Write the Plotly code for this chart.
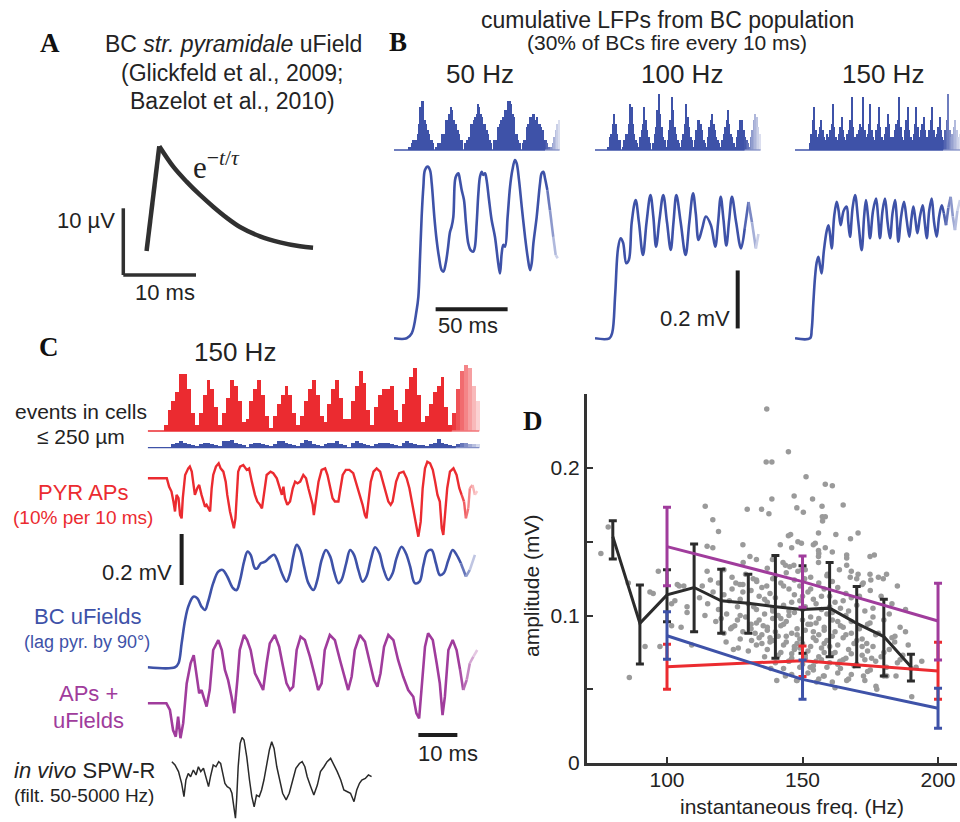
import plotly.graph_objects as go

W, H = 960, 822
SANS = "Liberation Sans, Arial, Helvetica, sans-serif"
SERIF = "Liberation Serif, Times New Roman, serif"
INK = "#232323"
TRACE_INK = "#303030"
RED = "#eb2b30"
BLUE = "#3e52a8"
PURPLE = "#a03c9c"
DOT = "#9a9a9a"

# ---------------- Panel A: unitary field of one basket cell ----------------
UFIELD_T_MS = [3.2, 4.95, 6.9, 8.7, 10.55, 12.4, 14.2, 16.05, 18.8, 21.55, 24.3, 26.1]
UFIELD_UV = [3.6, 19.3, 16.2, 14.0, 12.0, 10.2, 8.6, 7.2, 5.8, 4.9, 4.3, 4.1]
A_TIME_BAR_MS = 10
A_VOLT_BAR_UV = 10

# ---------------- Panel B: BC spike histograms (1 ms bins) and LFPs ----------------
B_TITLES = ["50 Hz", "100 Hz", "150 Hz"]
BIN_MS = 1.0
SPIKES_50HZ = [0, 0, 0, 0, 0, 0, 0, 0, 0, 0,
               1, 1, 2, 3, 3, 3, 5, 8, 13, 15, 15, 9, 8, 6, 5, 3, 3, 2, 0,
               1, 2, 2, 2, 5, 5, 5, 9, 9, 11, 13, 12, 9, 8, 8, 6, 5, 3, 3, 0,
               2, 3, 3, 4, 8, 8, 9, 10, 11, 14, 13, 11, 10, 8, 8, 6, 5, 3, 2, 0,
               3, 3, 3, 7, 8, 9, 10, 10, 12, 12, 15, 15, 14, 11, 10, 5, 5, 3, 2, 0,
               2, 3, 3, 7, 8, 10, 10, 11, 11, 9, 10, 8, 8, 7, 6, 3, 3, 2, 1, 0,
               1, 2, 4, 6, 8, 9]
SPIKES_100HZ = [0, 0, 0, 0, 0, 0, 0, 0, 0,
                1, 4, 5, 8, 11, 8, 5, 3, 3, 0,
                1, 3, 5, 5, 8, 14, 13, 8, 5, 3, 2,
                1, 4, 6, 8, 13, 9, 6, 4, 2, 0,
                2, 5, 7, 12, 17, 11, 7, 4, 3, 1,
                3, 6, 9, 16, 12, 7, 5, 3, 2, 1,
                3, 5, 8, 14, 10, 7, 4, 3, 1,
                3, 6, 9, 9, 8, 6, 3, 2, 1,
                4, 7, 9, 11, 8, 6, 4, 3, 2, 1,
                3, 5, 7, 9, 12, 8, 5, 4, 2, 1,
                4, 6, 9, 8, 9, 6, 4, 3, 2, 1,
                4, 6, 9, 11, 10, 7, 5]
SPIKES_150HZ = [0, 0, 0, 0, 0, 0, 0, 0, 0, 0,
                2, 5, 9, 13, 6, 4, 5, 7, 9, 6,
                4, 3, 5, 4, 6, 8, 14, 7, 4, 3,
                5, 7, 10, 6, 4, 3, 5, 6, 9, 16,
                7, 4, 3, 5, 6, 8, 7, 16, 6, 4,
                5, 8, 14, 6, 4, 3, 6, 8, 13, 7,
                4, 3, 5, 7, 11, 8, 4, 3, 4, 6,
                8, 9, 16, 7, 4, 3, 6, 9, 13, 6,
                4, 3, 5, 8, 13, 7, 4, 6, 8, 10,
                6, 4, 3, 6, 9, 13, 6, 4, 5, 7,
                10, 6, 4, 3, 6, 9, 17, 6, 4, 5,
                7, 9, 6, 4, 5]

LFP_50HZ_T = [0, 8.8, 12.3, 15.7, 16.9, 18.1, 19.2, 20.4, 21.5, 23.4, 25.0, 26.2, 28.0, 29.6, 31.2,
              33.1, 34.3, 35.9, 37.3, 38.9, 40.0, 41.2, 42.4, 43.5, 44.7, 45.8, 47.0, 48.6, 50.0, 51.6,
              53.2, 55.1, 56.2, 57.4, 58.6, 59.7, 60.9, 62.0, 63.2, 64.3, 66.0, 67.8, 70.1, 72.4, 73.6,
              74.8, 75.9, 77.1, 78.9, 80.6, 82.2, 84.0, 85.2, 86.8, 88.7, 91.0, 92.8, 94.5, 95.6, 96.8,
              99.1, 101.4, 102.5, 103.7, 104.9, 106.5, 108.3, 110.6, 112.3, 113.7]
LFP_50HZ_MV = [0, 0, 0.017, 0.097, 0.143, 0.281, 0.419, 0.523, 0.58, 0.592, 0.58, 0.534, 0.419, 0.339, 0.281,
               0.235, 0.23, 0.258, 0.304, 0.367, 0.385, 0.419, 0.546, 0.563, 0.569, 0.546, 0.511, 0.477, 0.396, 0.327,
               0.304, 0.299, 0.316, 0.396, 0.5, 0.557, 0.574, 0.563, 0.569, 0.546, 0.477, 0.408, 0.35, 0.258, 0.224,
               0.293, 0.322, 0.316, 0.419, 0.523, 0.58, 0.615, 0.603, 0.546, 0.454, 0.35, 0.281, 0.235, 0.258, 0.327,
               0.419, 0.534, 0.569, 0.574, 0.551, 0.511, 0.442, 0.35, 0.287, 0.276]
LFP_100HZ_T = [0, 10, 12, 14, 16, 17.8, 19.5, 21.7, 23.5, 25.5, 28.2, 30.5, 33.3, 35.8, 38.5,
               40.5, 42.4, 44.8, 47.4, 50, 52.6, 54.5, 56.5, 59.5, 62.9, 65.5, 68.1, 70, 71.9, 74.5,
               77, 80.5, 83.5, 85.5, 87.3, 89.2, 91.2, 93.2, 95.1, 98, 101.4, 104, 106.6, 109, 111.7, 113.5]
LFP_100HZ_MV = [0, 0, 0.02, 0.15, 0.31, 0.345, 0.33, 0.259, 0.27, 0.40, 0.477, 0.40, 0.287, 0.40, 0.494,
                0.42, 0.316, 0.41, 0.494, 0.40, 0.305, 0.40, 0.494, 0.40, 0.287, 0.40, 0.50, 0.43, 0.339, 0.38,
                0.42, 0.39, 0.316, 0.40, 0.488, 0.41, 0.32, 0.41, 0.488, 0.40, 0.31, 0.38, 0.47, 0.40, 0.31, 0.36]
LFP_150HZ_T = [0, 10.4, 11.6, 12.7, 13.9, 15.0, 16.2, 17.4, 18.5, 20.0, 22.0, 23.2, 24.3, 25.5, 27.2,
               28.95, 30.3, 31.7, 33.8, 35.9, 37.0, 38.2, 40.0, 41.7, 44.0, 46.3, 48.0, 49.3, 50.7, 52.1,
               54.2, 56.3, 57.7, 59.0, 60.8, 62.5, 64.3, 66.0, 67.7, 69.5, 70.6, 71.8, 73.7, 75.7, 77.5,
               79.4, 80.8, 82.2, 83.6, 85.0, 86.8, 88.7, 90.1, 91.5, 93.2, 94.9, 96.6, 98.4, 100.1, 101.9,
               103.4, 104.9, 106.5, 108.1, 109.6, 111.1, 112.8, 114.6]
LFP_150HZ_MV = [0, 0, 0.03, 0.12, 0.21, 0.26, 0.281, 0.25, 0.224, 0.30, 0.37, 0.39, 0.36, 0.31, 0.42,
                0.471, 0.44, 0.39, 0.44, 0.454, 0.40, 0.35, 0.45, 0.494, 0.40, 0.304, 0.42, 0.477, 0.42, 0.345,
                0.44, 0.482, 0.42, 0.345, 0.44, 0.482, 0.40, 0.345, 0.43, 0.477, 0.42, 0.333, 0.42, 0.471, 0.41,
                0.35, 0.41, 0.454, 0.41, 0.362, 0.42, 0.459, 0.40, 0.345, 0.44, 0.482, 0.40, 0.35, 0.42, 0.459,
                0.43, 0.39, 0.45, 0.488, 0.42, 0.373, 0.44, 0.477]
B_TIME_BAR_MS = 50
B_VOLT_BAR_MV = 0.2

# ---------------- Panel C: 150 Hz ripple, cells within 250 µm ----------------
PYR_EVENTS = [0, 0, 0, 0, 2, 7, 10, 13, 19, 19, 14, 6, 2,
              6, 12, 17, 14, 8, 2, 6, 11, 17, 15, 10, 3,
              4, 10, 14, 17, 12, 5, 1, 5, 9, 12, 15, 12, 6, 2,
              5, 10, 14, 17, 12, 5, 3, 9, 14, 17, 11, 4,
              4, 10, 15, 20, 16, 7, 2, 8, 12, 14, 14, 15, 7,
              3, 9, 14, 18, 21, 12, 3, 5, 9, 13, 15, 18, 8, 2,
              6, 14, 20, 22, 21, 15, 10]
BC_EVENTS = [0, 0, 0, 0, 0, 0,
             3, 4, 5, 4, 3, 2, 1, 3, 4, 4, 3, 2, 1,
             5, 5, 6, 4, 3, 2, 0, 3, 4, 4, 3, 2, 1,
             3, 5, 5, 4, 3, 2, 1, 4, 6, 5, 3, 2, 1,
             3, 4, 4, 5, 3, 2, 0, 4, 5, 4, 3, 2, 1,
             3, 4, 4, 4, 3, 2, 1, 4, 5, 4, 3, 2, 2, 1,
             3, 4, 7, 4, 3, 2, 1, 3, 4, 4, 3, 3, 3]

PYR_AP_T = [0, 4.9, 5.5, 6.1, 6.6, 7.0, 7.4, 7.9, 8.3, 8.7,
            9.0, 9.6, 10.4, 10.8, 11.3, 11.7, 12.1, 12.7, 13.2, 13.8,
            14.3, 14.7, 15.1, 15.6, 16.0, 16.4, 16.8, 17.5, 18.2, 18.7,
            19.4, 20.0, 20.4, 21.1, 21.8, 22.1, 22.5, 22.8, 23.2, 23.7,
            24.5, 25.4, 26.0, 26.7, 27.5, 28.1, 28.8, 29.3, 29.8, 30.5,
            31.5, 32.2, 33.1, 33.8, 34.4, 34.8, 35.2, 35.8, 36.5, 37.2,
            37.8, 38.4, 39.1, 39.9, 40.6, 41.2, 41.8, 42.3, 42.6, 43.2,
            43.8, 44.6, 45.5, 46.1, 46.8, 47.4, 48.0, 48.9, 49.3, 50.0,
            50.8, 51.7, 52.7, 53.6, 54.4, 55.1, 55.7, 56.1, 56.7, 57.2,
            57.9, 58.7, 59.6, 60.3, 61.1, 61.7, 62.3, 62.8, 63.7, 64.5,
            65.6, 66.4, 67.1, 67.7, 68.5, 69.4, 70.0, 70.5, 71.1, 71.7,
            72.4, 73.1, 73.7, 74.3, 74.9, 75.4, 75.8, 76.2, 76.8, 77.5,
            78.4, 79.2, 79.9, 80.5, 81.1, 81.6, 82.2, 82.6, 83.3, 83.9, 84.5]
PYR_AP_MV = [0, 0, -0.033, -0.052, -0.091, -0.13, -0.065, -0.078, -0.144, -0.157,
             -0.078, 0.013, 0.039, 0.046, 0.026, -0.013, -0.065, -0.039, -0.026, -0.065,
             -0.091, -0.111, -0.104, -0.118, -0.13, -0.039, 0.013, 0.046, 0.059, 0.039,
             0.026, -0.013, -0.065, -0.13, -0.17, -0.196, -0.157, -0.065, 0.026, 0.046,
             0.052, 0.033, 0.039, -0.013, -0.065, -0.091, -0.104, -0.118, -0.065, 0.013,
             0.026, 0.02, 0.0, -0.039, -0.065, -0.033, -0.078, -0.104, -0.091, -0.039,
             -0.013, -0.02, -0.013, 0.013, 0.0, -0.039, -0.078, -0.104, -0.144, -0.078,
             -0.013, 0.033, 0.039, 0.013, -0.039, -0.078, -0.091, -0.091, -0.052, 0.013,
             0.033, 0.033, 0.02, -0.026, -0.065, -0.104, -0.144, -0.157, -0.078, -0.013,
             0.026, 0.039, 0.026, -0.013, -0.065, -0.091, -0.104, -0.091, -0.013, 0.02,
             0.026, 0.0, -0.039, -0.091, -0.144, -0.229, -0.17, -0.039, 0.039, 0.065,
             0.059, 0.033, -0.013, -0.065, -0.091, -0.196, -0.222, -0.144, -0.039, 0.026,
             0.039, 0.013, -0.039, -0.065, -0.091, -0.157, -0.118, -0.039, -0.026, -0.065, -0.05]

BC_UFIELD_T = [0, 7.0, 7.9, 8.7, 9.6, 10.4, 11.7, 12.7, 13.8, 14.7,
               15.5, 16.8, 18.1, 19.2, 20.4, 21.9, 22.8, 23.7, 24.7, 25.6,
               26.4, 27.5, 28.1, 29.0, 30.1, 31.4, 32.4, 33.2, 34.4, 35.6,
               36.5, 37.3, 38.2, 39.1, 40.1, 41.2, 42.5, 43.5, 44.6, 45.7,
               46.8, 47.8, 48.9, 49.7, 50.9, 51.9, 52.9, 54.0, 55.1, 56.1,
               57.2, 58.3, 59.4, 60.4, 61.7, 62.8, 63.8, 65.1, 66.2, 67.3,
               68.5, 69.7, 70.7, 71.7, 72.8, 73.9, 74.9, 75.9, 77.1, 78.2,
               79.2, 80.3, 81.6, 82.6, 83.9]
BC_UFIELD_MV = [0, 0, 0.016, 0.094, 0.186, 0.238, 0.277, 0.271, 0.238, 0.225,
                0.258, 0.33, 0.375, 0.382, 0.356, 0.31, 0.303, 0.343, 0.414, 0.454,
                0.441, 0.388, 0.388, 0.408, 0.414, 0.432, 0.441, 0.421, 0.369, 0.336,
                0.369, 0.434, 0.48, 0.46, 0.395, 0.33, 0.303, 0.343, 0.421, 0.46,
                0.434, 0.375, 0.33, 0.343, 0.408, 0.46, 0.441, 0.382, 0.336, 0.356,
                0.421, 0.471, 0.447, 0.388, 0.343, 0.369, 0.428, 0.473, 0.447, 0.395,
                0.33, 0.336, 0.401, 0.454, 0.46, 0.408, 0.362, 0.369, 0.421, 0.46,
                0.441, 0.408, 0.356, 0.382, 0.441]

SUM_T = [0, 4.8, 5.7, 6.5, 7.2, 7.8, 8.4, 9.1, 10.0, 11.0,
         11.8, 12.5, 13.2, 13.8, 14.4, 15.1, 15.9, 16.8, 18.1, 19.0,
         19.8, 20.6, 21.5, 22.2, 23.0, 23.6, 24.7, 25.5, 26.4, 27.5,
         28.8, 29.6, 30.5, 31.3, 32.6, 33.7, 34.7, 35.6, 36.5, 37.3,
         38.2, 39.2, 40.3, 41.6, 42.9, 43.7, 44.6, 45.4, 46.7, 48.0,
         49.3, 50.6, 51.4, 52.3, 53.1, 54.4, 55.7, 57.0, 58.0, 58.9,
         59.7, 60.6, 61.7, 63.0, 64.2, 65.5, 66.8, 68.1, 68.9, 69.6,
         70.2, 71.1, 71.9, 73.1, 74.1, 74.9, 75.6, 76.2, 77.1, 78.2,
         79.2, 80.1, 80.9, 81.8, 82.6, 83.5, 84.5]
SUM_MV = [0, 0, -0.026, -0.105, -0.131, -0.052, -0.137, -0.078, 0.078, 0.157,
          0.189, 0.105, 0.039, 0.052, 0.026, -0.013, 0.052, 0.209, 0.248, 0.209,
          0.131, 0.092, 0.026, -0.039, 0.092, 0.209, 0.268, 0.248, 0.209, 0.118,
          0.078, 0.052, 0.157, 0.235, 0.268, 0.222, 0.144, 0.078, 0.052, 0.065,
          0.209, 0.261, 0.248, 0.183, 0.105, 0.052, 0.078, 0.209, 0.268, 0.248,
          0.17, 0.092, 0.052, 0.105, 0.209, 0.268, 0.242, 0.157, 0.092, 0.065,
          0.118, 0.222, 0.268, 0.248, 0.17, 0.105, 0.052, 0.026, -0.039, -0.059,
          0.052, 0.222, 0.275, 0.248, 0.157, 0.078, -0.046, 0.026, 0.209, 0.248,
          0.209, 0.131, 0.052, 0.092, 0.157, 0.183, 0.209]

SPWR_T = [6.2, 7.0, 7.9, 8.7, 9.3, 9.8, 10.4, 11.0, 11.7, 12.4,
          13.0, 13.6, 14.3, 14.9, 15.6, 16.1, 16.8, 17.5, 18.2, 18.7,
          19.2, 19.8, 20.4, 21.1, 21.6, 22.1, 22.5, 22.8, 23.2, 23.7,
          24.2, 24.7, 25.4, 26.1, 26.7, 27.3, 27.9, 28.6, 29.2, 29.8,
          30.5, 31.2, 31.8, 32.4, 33.1, 33.8, 34.6, 35.5, 36.3, 37.2,
          38.0, 38.9, 39.6, 40.3, 40.9, 41.8, 42.6, 43.5, 44.3, 45.2,
          46.0, 46.9, 47.8, 48.6, 49.5, 50.3, 51.2, 52.0, 52.9, 53.6,
          54.3, 54.9, 55.8, 56.6, 57.4]
SPWR_MV = [0.059, 0.046, 0.02, -0.026, -0.078, -0.013, 0.013, 0.0, 0.026, 0.007,
           0.039, 0.02, 0.033, 0.0, -0.039, 0.0, 0.046, 0.039, 0.059, 0.052,
           0.013, -0.026, -0.039, -0.046, -0.065, -0.118, -0.163, -0.091, 0.039, 0.131,
           0.154, 0.144, 0.078, -0.013, -0.078, -0.118, -0.072, -0.078, -0.052, -0.013,
           0.052, 0.105, 0.137, 0.111, 0.039, -0.013, -0.065, -0.091, -0.065, -0.013,
           0.033, 0.052, 0.059, 0.039, 0.0, -0.039, -0.072, -0.033, 0.02, 0.039,
           0.059, 0.072, 0.046, 0.02, -0.013, -0.052, -0.059, -0.065, -0.098, -0.052,
           -0.026, -0.013, -0.007, 0.007, 0.0]
C_TIME_BAR_MS = 10
C_VOLT_BAR_MV = 0.2

# ---------------- Panel D: ripple amplitude vs instantaneous frequency ----------------
INVIVO_FREQ = [80, 90, 100, 110, 120, 130, 140, 150, 160, 170, 180, 190]
INVIVO_MEAN = [0.1535, 0.0947, 0.114, 0.119, 0.110, 0.1083, 0.106, 0.104, 0.105, 0.0947, 0.0857, 0.0653]
INVIVO_HI = [0.1643, 0.1207, 0.131, 0.1485, 0.1313, 0.128, 0.1406, 0.1338, 0.136, 0.1196, 0.111, 0.0737]
INVIVO_LO = [0.1383, 0.0671, 0.0958, 0.089, 0.088, 0.088, 0.071, 0.0744, 0.072, 0.0653, 0.059, 0.0556]

MODEL_FREQ = [100, 150, 200]
SUM_AMP_MEAN = [0.1467, 0.123, 0.0963]
SUM_AMP_HI = [0.1734, 0.1404, 0.1218]
SUM_AMP_LO = [0.1202, 0.1056, 0.0699]
PYR_AMP_MEAN = [0.0653, 0.0694, 0.0624]
PYR_AMP_HI = [0.0805, 0.0793, 0.0818]
PYR_AMP_LO = [0.050, 0.0586, 0.0432]
BC_AMP_MEAN = [0.0863, 0.0567, 0.0371]
BC_AMP_HI = [0.1026, 0.0699, 0.0506]
BC_AMP_LO = [0.0703, 0.0432, 0.0235]

D_MAJOR_TICKS = [0, 0.1, 0.2]
D_MINOR_TICKS = [0.05, 0.15, 0.25]
D_FREQ_TICKS = [100, 150, 200]

# individual SPW-R events: (instantaneous frequency Hz, amplitude mV)
SPWR_EVENTS = [
    (121, 0.131), (129, 0.128), (137, 0.132), (144, 0.129), (151, 0.131), (159, 0.127), (168, 0.130), (181, 0.128),
    (116, 0.124), (124, 0.126), (133, 0.124), (140, 0.127), (147, 0.124), (153, 0.126), (161, 0.123), (170, 0.125), (178, 0.126),
    (113, 0.120), (119, 0.122), (128, 0.121), (135, 0.119), (142, 0.122), (149, 0.120), (156, 0.122), (163, 0.119), (172, 0.121), (185, 0.120),
    (117, 0.116), (124, 0.118), (131, 0.117), (138, 0.115), (145, 0.118), (152, 0.116), (158, 0.118), (166, 0.115), (175, 0.117),
    (112, 0.112), (121, 0.114), (127, 0.111), (134, 0.113), (140, 0.112), (147, 0.114), (154, 0.111), (160, 0.113), (168, 0.112), (179, 0.113),
    (115, 0.108), (123, 0.110), (130, 0.108), (137, 0.109), (143, 0.107), (149, 0.110), (155, 0.108), (162, 0.109), (170, 0.107), (183, 0.108),
    (119, 0.104), (126, 0.106), (133, 0.104), (139, 0.105), (145, 0.103), (151, 0.106), (157, 0.104), (164, 0.105), (173, 0.103), (188, 0.104),
    (114, 0.100), (122, 0.101), (129, 0.099), (136, 0.101), (141, 0.100), (147, 0.102), (153, 0.099), (159, 0.101), (166, 0.100), (176, 0.099),
    (118, 0.096), (126, 0.097), (133, 0.095), (139, 0.098), (144, 0.096), (150, 0.097), (155, 0.095), (161, 0.097), (168, 0.096), (180, 0.097),
    (124, 0.092), (131, 0.094), (137, 0.092), (142, 0.093), (148, 0.091), (153, 0.094), (158, 0.092), (164, 0.093), (171, 0.091), (186, 0.092),
    (121, 0.088), (128, 0.089), (135, 0.087), (140, 0.089), (146, 0.088), (151, 0.090), (156, 0.087), (162, 0.089), (168, 0.088), (177, 0.087),
    (127, 0.084), (134, 0.085), (139, 0.083), (144, 0.086), (149, 0.084), (154, 0.085), (159, 0.083), (165, 0.085), (172, 0.084), (183, 0.085),
    (133, 0.080), (138, 0.082), (143, 0.080), (148, 0.081), (153, 0.079), (158, 0.081), (163, 0.080), (169, 0.081), (176, 0.079), (189, 0.080),
    (130, 0.076), (137, 0.077), (142, 0.075), (147, 0.077), (152, 0.076), (157, 0.078), (162, 0.075), (167, 0.077), (174, 0.076), (182, 0.077),
    (136, 0.072), (141, 0.073), (146, 0.071), (151, 0.073), (156, 0.072), (161, 0.074), (166, 0.071), (172, 0.073), (179, 0.072), (187, 0.073),
    (140, 0.068), (145, 0.069), (150, 0.067), (155, 0.069), (160, 0.068), (165, 0.070), (170, 0.067), (177, 0.069), (185, 0.068), (194, 0.069),
    (143, 0.064), (149, 0.065), (154, 0.063), (159, 0.065), (164, 0.064), (169, 0.066), (175, 0.063), (181, 0.065), (190, 0.064),
    (146, 0.060), (152, 0.061), (158, 0.059), (163, 0.061), (168, 0.060), (174, 0.062), (180, 0.059),
    (148, 0.056), (156, 0.057), (161, 0.055), (167, 0.057), (173, 0.056),
    (136, 0.111), (146, 0.109), (157, 0.113), (139, 0.103), (150, 0.104), (161, 0.102), (142, 0.098), (152, 0.094),
    (163, 0.096), (137, 0.090), (148, 0.087), (158, 0.090), (144, 0.082), (155, 0.083), (166, 0.087), (149, 0.078),
    (160, 0.079), (170, 0.083), (141, 0.086), (132, 0.106), (127, 0.100), (153, 0.118), (143, 0.120), (165, 0.110),
    (174, 0.094), (178, 0.088), (146, 0.074), (157, 0.070), (168, 0.074), (184, 0.082),
    (134, 0.097), (145, 0.100), (156, 0.098), (167, 0.103), (131, 0.091), (143, 0.094), (154, 0.089), (165, 0.092),
    (138, 0.085), (150, 0.081), (161, 0.086), (172, 0.079), (135, 0.081), (147, 0.079), (158, 0.075), (151, 0.071),
    (163, 0.067), (173, 0.070), (180, 0.075), (125, 0.093), (120, 0.098), (128, 0.116), (139, 0.125), (150, 0.113),
    (160, 0.106), (171, 0.113), (176, 0.105), (182, 0.101), (188, 0.089), (154, 0.066),
    (136.8, 0.240), (144.8, 0.211), (136.6, 0.204), (138.7, 0.204), (151.3, 0.194), (158.4, 0.189), (161, 0.188),
    (114.1, 0.174), (138.7, 0.179), (146.9, 0.181), (153.7, 0.179), (165, 0.175), (129.6, 0.172), (134.9, 0.172),
    (137.6, 0.169), (147.9, 0.173), (150.3, 0.170), (157.2, 0.174), (157.3, 0.167), (158.4, 0.167), (157.4, 0.164),
    (116.9, 0.165), (119, 0.157), (78.3, 0.160), (75.6, 0.142), (128, 0.148), (144.8, 0.154), (145.6, 0.155),
    (148.3, 0.150), (149.6, 0.149), (155.9, 0.156), (162.3, 0.155), (167.7, 0.152), (170.5, 0.156), (141.8, 0.148),
    (146, 0.146), (154, 0.148), (154.7, 0.149), (155.9, 0.144), (156, 0.142), (158.4, 0.146), (161, 0.143),
    (166.3, 0.141), (166.3, 0.139), (174.9, 0.140), (176.5, 0.141), (114.8, 0.147), (116.9, 0.146), (128.1, 0.136),
    (130.6, 0.140), (133, 0.138), (138.9, 0.138), (142.8, 0.136), (143.7, 0.134), (145.3, 0.133), (146.8, 0.134),
    (148.3, 0.130), (149.8, 0.131), (150.8, 0.125), (155.9, 0.136), (155.9, 0.140), (159.2, 0.128), (163.6, 0.131),
    (166.3, 0.134), (167.6, 0.126), (170.5, 0.128), (174.9, 0.128), (175.2, 0.124), (179.8, 0.125), (172.4, 0.122),
    (96.8, 0.130), (85.7, 0.122), (94.9, 0.115), (104.5, 0.120), (106.2, 0.120), (114.8, 0.130), (125.4, 0.122),
    (126.9, 0.121), (131.8, 0.125), (133.1, 0.123), (136.8, 0.120), (101.7, 0.108), (102.9, 0.110), (107.4, 0.106),
    (107.4, 0.102), (86.1, 0.058), (97.4, 0.079), (103.8, 0.121), (109.1, 0.080), (121.8, 0.082), (123.5, 0.091),
    (124.5, 0.077), (126.3, 0.078), (131.2, 0.083), (132.5, 0.088), (135.5, 0.093), (138.3, 0.064), (140.5, 0.056),
    (143.7, 0.059), (144.9, 0.069), (147.8, 0.056), (152.8, 0.065), (155.2, 0.055), (157.7, 0.059), (162, 0.051),
    (166.3, 0.056), (172.5, 0.059), (177.1, 0.052), (177.4, 0.050), (181.1, 0.059), (184.5, 0.059), (190.3, 0.045),
    (186, 0.070), (191.9, 0.065), (175.5, 0.071), (163.8, 0.069), (174.9, 0.095), (173.7, 0.081), (184.1, 0.086),
    (91.9, 0.079), (93.7, 0.116), (101.7, 0.093), (105.2, 0.092),
]

# =====================================================================
fig = go.Figure()
layout_axes = {}


def frame(n, x_px, y_px, x_zero, x_scale, y_zero, y_scale):
    """Invisible axis pair whose data units map onto a pixel box of the page."""
    sfx = "" if n == 1 else str(n)
    x0, x1 = x_px
    top, bottom = y_px
    layout_axes["xaxis" + sfx] = dict(
        domain=[max(0, x0 / W), min(1, x1 / W)],
        range=[(x0 - x_zero) / x_scale, (x1 - x_zero) / x_scale],
        visible=False, anchor="y" + sfx, fixedrange=True, automargin=False)
    layout_axes["yaxis" + sfx] = dict(
        domain=[max(0, 1 - bottom / H), min(1, 1 - top / H)],
        range=[(y_zero - bottom) / y_scale, (y_zero - top) / y_scale],
        visible=False, anchor="x" + sfx, fixedrange=True, automargin=False)
    return "x" + sfx, "y" + sfx


def tint(color, frac):
    r, g, b = (int(color[i:i + 2], 16) for i in (1, 3, 5))
    return "rgb(%d,%d,%d)" % tuple(round(c + (255 - c) * frac) for c in (r, g, b))


def line(ax, t, v, color, width, shape="linear"):
    fig.add_trace(go.Scatter(x=t, y=v, mode="lines", xaxis=ax[0], yaxis=ax[1],
                             line=dict(color=color, width=width, shape=shape),
                             hoverinfo="skip", showlegend=False))


def fading_line(ax, t, v, color, width, fade_from, shape="linear", strength=0.8):
    k = next(i for i, ti in enumerate(t) if ti >= fade_from)
    line(ax, t[:k + 1], v[:k + 1], color, width, shape)
    t_end = t[-1]
    for i in range(k, len(t) - 1):
        mid = 0.5 * (t[i] + t[i + 1])
        frac = strength * (mid - fade_from) / (t_end - fade_from)
        line(ax, t[i:i + 2], v[i:i + 2], tint(color, frac), width)


def histogram(ax, counts, color, fade_from, strength=0.85):
    centers = [(i + 0.5) * BIN_MS for i in range(len(counts))]
    t_end = len(counts) * BIN_MS
    colors = [color if c < fade_from else
              tint(color, strength * (c - fade_from) / (t_end - fade_from)) for c in centers]
    fig.add_trace(go.Bar(x=centers, y=counts, width=BIN_MS, xaxis=ax[0], yaxis=ax[1],
                         marker=dict(color=colors, line=dict(width=0)),
                         hoverinfo="skip", showlegend=False))
    fading_line(ax, [0, fade_from, t_end], [0, 0, 0], color, 1.3, fade_from, strength=0.7)


# ---------------- Panel D ----------------
AXIS_INK = "#333333"
tick_style = dict(ticks="inside", ticklen=6, tickwidth=2, tickcolor=AXIS_INK)
layout_axes["xaxis"] = dict(
    domain=[587 / W, 957 / W], range=[70.48, 207.0], anchor="y", automargin=False,
    showline=True, linecolor=AXIS_INK, linewidth=3, tickvals=D_FREQ_TICKS,
    ticklabelstandoff=-4, tickfont=dict(family=SANS, size=21, color=INK),
    showgrid=False, zeroline=False, fixedrange=True, **tick_style)
layout_axes["yaxis"] = dict(
    domain=[1 - 763 / H, 1 - 394.25 / H], range=[0, 0.25], anchor="x", automargin=False,
    showline=True, linecolor=AXIS_INK, linewidth=3, tickvals=D_MAJOR_TICKS,
    ticktext=["0", "0.1", "0.2"], ticklabelstandoff=0,
    minor=dict(tickmode="array", tickvals=D_MINOR_TICKS, showgrid=False, **tick_style),
    tickfont=dict(family=SANS, size=21, color=INK),
    showgrid=False, zeroline=False, fixedrange=True, **tick_style)

fig.add_trace(go.Scatter(
    x=[e[0] for e in SPWR_EVENTS], y=[e[1] for e in SPWR_EVENTS], mode="markers",
    marker=dict(color=DOT, size=5.5, line=dict(width=0)), xaxis="x", yaxis="y",
    hoverinfo="skip", showlegend=False))


def mean_series(freq, mean, hi, lo, color):
    fig.add_trace(go.Scatter(
        x=freq, y=mean, mode="lines", xaxis="x", yaxis="y",
        line=dict(color=color, width=3),
        error_y=dict(type="data", symmetric=False,
                     array=[h - m for h, m in zip(hi, mean)],
                     arrayminus=[m - l for m, l in zip(mean, lo)],
                     color=color, thickness=3, width=4),
        hoverinfo="skip", showlegend=False))


mean_series(INVIVO_FREQ, INVIVO_MEAN, INVIVO_HI, INVIVO_LO, "#2b2b2b")
mean_series(MODEL_FREQ, PYR_AMP_MEAN, PYR_AMP_HI, PYR_AMP_LO, RED)
mean_series(MODEL_FREQ, BC_AMP_MEAN, BC_AMP_HI, BC_AMP_LO, BLUE)
mean_series(MODEL_FREQ, SUM_AMP_MEAN, SUM_AMP_HI, SUM_AMP_LO, PURPLE)

# ---------------- Panel A ----------------
AX_A = frame(2, (95, 340), (125, 300), 123.3, 7.27, 275.0, 6.67)
line(AX_A, UFIELD_T_MS[:2], UFIELD_UV[:2], TRACE_INK, 4.5)
line(AX_A, UFIELD_T_MS[1:], UFIELD_UV[1:], TRACE_INK, 4.5, shape="spline")
line(AX_A, [0, 0], [0, A_VOLT_BAR_UV], TRACE_INK, 3.5)
line(AX_A, [0, A_TIME_BAR_MS], [0, 0], TRACE_INK, 3.5)

# ---------------- Panel B ----------------
B_LEFT = [394, 595, 795]
B_RIGHT = [560, 761, 960]
b_spikes = [SPIKES_50HZ, SPIKES_100HZ, SPIKES_150HZ]
b_lfp = [(LFP_50HZ_T, LFP_50HZ_MV), (LFP_100HZ_T, LFP_100HZ_MV), (LFP_150HZ_T, LFP_150HZ_MV)]
b_fade = [105, 104, 103]
b_axes = []
for j in range(3):
    ax_h = frame(3 + j, (B_LEFT[j], B_RIGHT[j]), (85, 153), B_LEFT[j], 1.44, 150, 3.3)
    ax_l = frame(6 + j, (B_LEFT[j], B_RIGHT[j]), (155, 345), B_LEFT[j], 1.44, 338.3, 290)
    b_axes.append(ax_l)
    histogram(ax_h, b_spikes[j], BLUE, b_fade[j])
    fading_line(ax_l, b_lfp[j][0], b_lfp[j][1], BLUE, 2.6, b_fade[j], shape="spline")

line(b_axes[0], [28.9, 28.9 + B_TIME_BAR_MS], [0.1, 0.1], "#1e1e1e", 4)
line(b_axes[1], [99.1, 99.1], [0.034, 0.034 + B_VOLT_BAR_MV], "#1e1e1e", 4)

# ---------------- Panel C ----------------
C_X = (147.7, 480)
AX_C_PYR_HIST = frame(9, C_X, (358, 434), 147.7, 3.9, 431, 3.0)
AX_C_BC_HIST = frame(10, C_X, (432, 452), 147.7, 3.9, 447.7, 1.25)
AX_C_PYR = frame(11, C_X, (455, 545), 147.7, 3.9, 478.3, 255)
AX_C_BC = frame(12, C_X, (528, 672), 147.7, 3.9, 667.3, 255)
AX_C_SUM = frame(13, C_X, (625, 748), 147.7, 3.9, 703.3, 255)
AX_C_SPW = frame(14, C_X, (722, 822), 147.7, 3.9, 776.7, 255)

histogram(AX_C_PYR_HIST, PYR_EVENTS, RED, 78)
histogram(AX_C_BC_HIST, BC_EVENTS, BLUE, 79)
fading_line(AX_C_PYR, PYR_AP_T, PYR_AP_MV, RED, 2.4, 80)
fading_line(AX_C_BC, BC_UFIELD_T, BC_UFIELD_MV, BLUE, 2.6, 80, shape="spline")
fading_line(AX_C_SUM, SUM_T, SUM_MV, PURPLE, 2.6, 80)
line(AX_C_SPW, SPWR_T, SPWR_MV, "#2a2a2a", 1.5)

line(AX_C_BC, [8.7, 8.7], [0.323, 0.323 + C_VOLT_BAR_MV], "#1e1e1e", 4)
line(AX_C_SPW, [69.4, 69.4 + C_TIME_BAR_MS], [0.1635, 0.1635], "#1e1e1e", 4)

# ---------------- text ----------------
def label(text, x, y, size, color=INK, anchor="center", family=SANS, angle=0):
    fig.add_annotation(text=text, x=x / W, y=1 - y / H, xref="paper", yref="paper",
                       showarrow=False, xanchor=anchor, yanchor="middle", textangle=angle,
                       font=dict(family=family, size=size, color=color))


for letter, x, y in [("A", 50, 43), ("B", 398, 42), ("C", 49, 347), ("D", 533, 421)]:
    label("<b>%s</b>" % letter, x, y, 27, color="#111111", family=SERIF)

label("BC <i>str. pyramidale</i> uField", 233, 44, 23)
label("(Glickfeld et al., 2009;", 232, 73, 23)
label("Bazelot et al., 2010)", 232, 101, 23)
label("10 µV", 117, 221, 22, anchor="right")
label("10 ms", 165, 292, 22)
label("e<sup>−<i>t</i>/<i>τ</i></sup>", 191, 166, 31, family=SERIF, anchor="left")

label("cumulative LFPs from BC population", 667, 20, 23)
label("(30% of BCs fire every 10 ms)", 667, 43, 21)
for title, cx in zip(B_TITLES, [480, 682, 883]):
    label(title, cx, 74, 26)
label("50 ms", 468, 325, 22)
label("0.2 mV", 732, 318, 22, anchor="right")

label("150 Hz", 235, 352, 26)
label("events in cells", 81, 411, 21)
label("≤ 250 µm", 81, 437, 21)
label("PYR APs", 83, 492, 22, color=RED)
label("(10% per 10 ms)", 83, 517, 19, color=RED)
label("0.2 mV", 174, 572, 22, anchor="right")
label("BC uFields", 88, 616, 22, color=BLUE)
label("(lag pyr. by 90°)", 87, 642, 18, color=BLUE)
label("APs +", 88, 693, 22, color=PURPLE)
label("uFields", 88, 720, 22, color=PURPLE)
label("<i>in vivo</i> SPW-R", 84, 770, 22)
label("(filt. 50-5000 Hz)", 84, 795, 19)
label("10 ms", 448, 753, 22)

label("amplitude (mV)", 531, 586, 21, angle=-90)
label("instantaneous freq. (Hz)", 792, 806, 21)

fig.update_layout(
    template="none",
    width=W, height=H, autosize=False,
    margin=dict(l=0, r=0, t=0, b=0, pad=0, autoexpand=False),
    paper_bgcolor="white", plot_bgcolor="rgba(0,0,0,0)",
    showlegend=False, hovermode=False, bargap=0, barmode="overlay",
    **layout_axes)

fig.write_html("out.html")
